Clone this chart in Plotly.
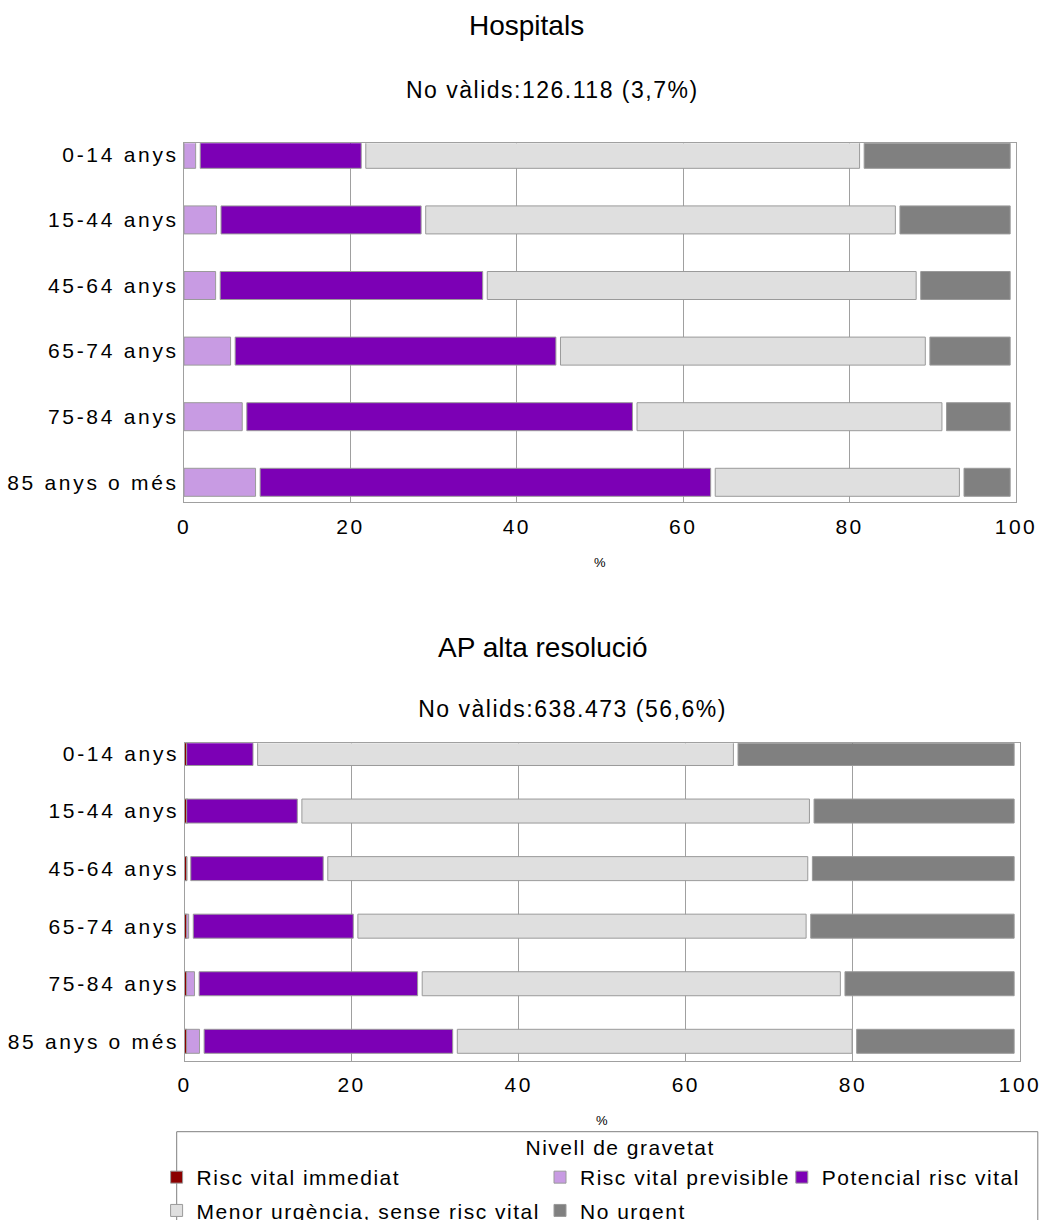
import plotly.graph_objects as go

# Age groups (rows) and triage levels (stacked segments)
ages = ["0-14 anys", "15-44 anys", "45-64 anys", "65-74 anys", "75-84 anys", "85 anys o més"]
levels = ["Risc vital immediat", "Risc vital previsible", "Potencial risc vital",
          "Menor urgència, sense risc vital", "No urgent"]
level_colors = ["#8b0000", "#c89be3", "#7c00b5", "#dfdfdf", "#808080"]

# Hospitals: % of valid triages by level
hosp_immediat = [0.0, 0.0, 0.0, 0.0, 0.0, 0.0]
hosp_previsible = [2.1, 4.6, 4.5, 6.3, 7.7, 9.3]
hosp_potencial = [19.9, 24.6, 32.1, 39.1, 46.9, 54.7]
hosp_menor = [59.9, 57.0, 52.1, 44.4, 37.2, 29.9]
hosp_no_urgent = [18.1, 13.8, 11.3, 10.2, 8.2, 6.1]

# AP alta resolució: % of valid triages by level
ap_immediat = [0.3, 0.3, 0.2, 0.2, 0.2, 0.2]
ap_previsible = [0.1, 0.1, 0.7, 1.0, 1.7, 2.3]
ap_potencial = [8.5, 13.8, 16.4, 19.7, 26.7, 30.3]
ap_menor = [57.5, 61.3, 58.0, 54.2, 50.6, 47.8]
ap_no_urgent = [33.6, 24.5, 24.7, 24.9, 20.8, 19.4]

x_ticks = [0, 20, 40, 60, 80, 100]

titles = ["Hospitals", "AP alta resolució"]
subtitles = ["No vàlids:126.118 (3,7%)", "No vàlids:638.473 (56,6%)"]

W, H = 1044, 1220
FONT = "Liberation Sans, Arial, sans-serif"
OUTLINE = "#9a9a9a"
AXIS_GREY = "#a0a0a0"

# segments are drawn a little shorter than their share, leaving a white gap
LEAD, TRAIL, MIN_W = 0.15, 0.7, 0.25


def px_x(p):
    return p / W


def px_y(p):
    return 1 - p / H


def segment_geometry(series_list):
    """Return (bases, widths) per series for a stacked bar with small gaps."""
    n = len(series_list[0])
    out = []
    cum = [0.0] * n
    for values in series_list:
        bases, widths = [], []
        for i, v in enumerate(values):
            s, e = cum[i], cum[i] + v
            if v <= 0:
                bases.append(None)
                widths.append(None)
            else:
                x0 = max(s - LEAD, 0.0)
                x1 = max(e - TRAIL, x0 + MIN_W)
                bases.append(x0)
                widths.append(x1 - x0)
            cum[i] = e
        out.append((bases, widths))
    return out


fig = go.Figure()

panels = [
    dict(series=[hosp_immediat, hosp_previsible, hosp_potencial, hosp_menor, hosp_no_urgent],
         xa="x", ya="y", bar_w=0.427, legend=False),
    dict(series=[ap_immediat, ap_previsible, ap_potencial, ap_menor, ap_no_urgent],
         xa="x2", ya="y2", bar_w=0.417, legend=True),
]

legend_of = ["legend", "legend2", "legend3", "legend", "legend2"]
rank_of = [1, 1, 1, 2, 2]

for panel in panels:
    geo = segment_geometry(panel["series"])
    # immediate-risk segment drawn last so it stays on top at the axis
    for j in [1, 2, 3, 4, 0]:
        bases, widths = geo[j]
        fig.add_trace(go.Bar(
            y=ages, x=widths, base=bases, orientation="h",
            name=levels[j], width=panel["bar_w"],
            marker=dict(color=level_colors[j], line=dict(color=OUTLINE, width=1)),
            xaxis=panel["xa"], yaxis=panel["ya"],
            showlegend=panel["legend"], legend=legend_of[j],
            legendgroup=levels[j], legendrank=rank_of[j],
        ))

axis_common_x = dict(range=[0, 100], tickvals=x_ticks, showgrid=True, gridcolor=AXIS_GREY,
                     gridwidth=1, zeroline=False, showline=True, mirror=True,
                     linecolor=AXIS_GREY, linewidth=1, ticks="", automargin=False,
                     tickfont=dict(family=FONT, size=21, color="black"),
                     ticklabelstandoff=5, fixedrange=True)
axis_common_y = dict(type="category", categoryarray=ages, showgrid=False, zeroline=False,
                     showline=True, mirror=True, linecolor=AXIS_GREY, linewidth=1, ticks="",
                     automargin=False,
                     tickfont=dict(family=FONT, size=21, color="black"),
                     ticklabelstandoff=0, fixedrange=True)

fig.update_layout(
    width=W, height=H, autosize=False,
    margin=dict(l=0, r=0, t=0, b=0, autoexpand=False),
    paper_bgcolor="white", plot_bgcolor="white",
    barmode="overlay",
    font=dict(family=FONT, color="black"),
    xaxis=dict(axis_common_x, domain=[px_x(184), px_x(1016)], anchor="y"),
    yaxis=dict(axis_common_y, domain=[px_y(502.3), px_y(143.3)], range=[5.305, -0.168], anchor="x"),
    xaxis2=dict(axis_common_x, domain=[px_x(184.5), px_x(1020)], anchor="y2"),
    yaxis2=dict(axis_common_y, domain=[px_y(1060.7), px_y(743.3)], range=[5.337, -0.177], anchor="x2"),
)

legend_style = dict(orientation="v", xanchor="left", yanchor="top", bgcolor="rgba(0,0,0,0)",
                    borderwidth=0, font=dict(family=FONT, size=21, color="black"),
                    tracegroupgap=3, itemclick=False, itemdoubleclick=False)
fig.update_layout(
    legend=dict(legend_style, x=px_x(156.6), y=px_y(1157)),
    legend2=dict(legend_style, x=px_x(540), y=px_y(1157)),
    legend3=dict(legend_style, x=px_x(781.8), y=px_y(1157)),
)

# legend frame (its lower edge falls below the figure)
fig.add_shape(type="rect", xref="paper", yref="paper",
              x0=px_x(176.7), x1=px_x(1037.8), y0=px_y(1240), y1=px_y(1131.7),
              line=dict(color="#7f7f7f", width=1), fillcolor="rgba(0,0,0,0)")

annotations = [
    dict(text=titles[0], x=px_x(526.5), y=px_y(26), size=28),
    dict(text=subtitles[0], x=px_x(552), y=px_y(90.5), size=23),
    dict(text=titles[1], x=px_x(543), y=px_y(647), size=28),
    dict(text=subtitles[1], x=px_x(572.5), y=px_y(709), size=23),
    dict(text="%", x=px_x(600), y=px_y(562), size=13),
    dict(text="%", x=px_x(602), y=px_y(1120), size=13),
    dict(text="Nivell de gravetat", x=px_x(620), y=px_y(1147), size=21),
]
for a in annotations:
    fig.add_annotation(text=a["text"], x=a["x"], y=a["y"], xref="paper", yref="paper",
                       xanchor="center", yanchor="middle", showarrow=False,
                       font=dict(family=FONT, size=a["size"], color="black"))

# page without margin or scrollbars; wider letter spacing on tick, legend and subtitle texts,
# re-applied whenever plotly redraws part of the figure
page_js = """
document.documentElement.style.overflow = 'hidden';
document.body.style.margin = '0';
document.body.style.overflow = 'hidden';
var gd = document.getElementById('{plot_id}');
function spread(sel, v) {
  gd.querySelectorAll(sel).forEach(function (t) { t.style.letterSpacing = v; });
}
function applySpacing() {
  spread('g.ytick text, g.y2tick text', '2.7px');
  spread('g.xtick text, g.x2tick text', '2.5px');
  spread('g.infolayer text', '1.5px');
  spread('.annotation[data-index="0"] text, .annotation[data-index="2"] text', '0px');
  spread('.annotation[data-index="4"] text, .annotation[data-index="5"] text', '0px');
  gd.querySelectorAll('g.infolayer [clip-path]').forEach(function (el) {
    el.removeAttribute('clip-path');
  });
}
new MutationObserver(applySpacing).observe(gd, {childList: true, subtree: true});
applySpacing();
"""

fig.write_html("out.html", post_script=page_js, config={"responsive": False})
